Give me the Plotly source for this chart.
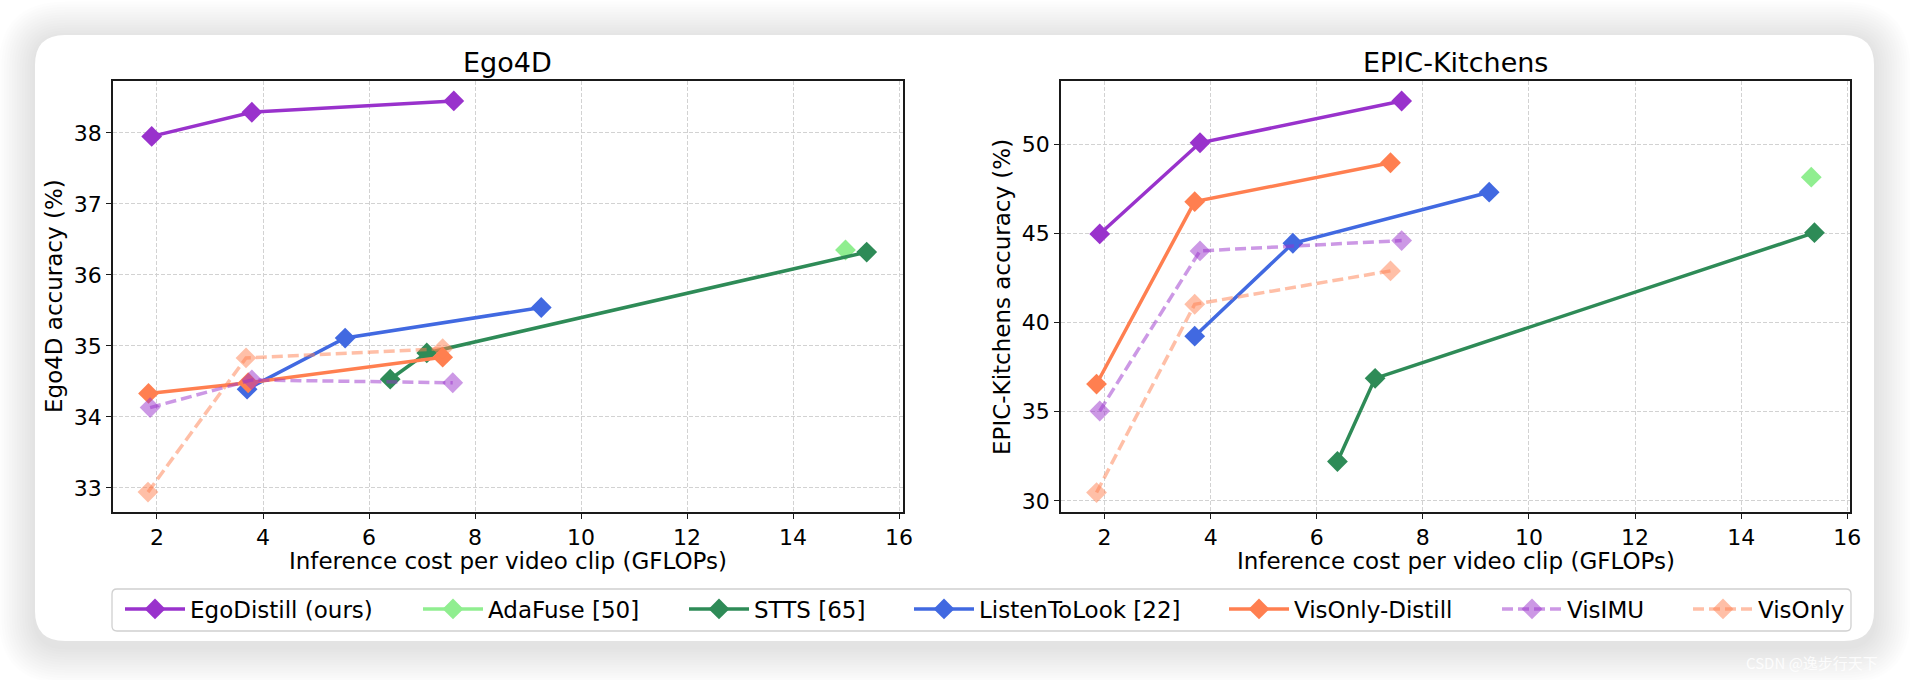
import plotly.graph_objects as go

W, H = 1910, 680

# ---------------- data ----------------
series_names = ["EgoDistill (ours)", "AdaFuse [50]", "STTS [65]", "ListenToLook [22]",
                "VisOnly-Distill", "VisIMU", "VisOnly"]

# Ego4D
ego_egodistill_x = [1.90, 3.79, 7.60]
ego_egodistill_y = [37.95, 38.29, 38.45]
ego_adafuse_x = [14.99]
ego_adafuse_y = [36.35]
ego_stts_x = [6.40, 7.09, 15.39]
ego_stts_y = [34.53, 34.90, 36.32]
ego_ltl_x = [3.70, 5.55, 9.25]
ego_ltl_y = [34.39, 35.11, 35.54]
ego_vod_x = [1.84, 3.72, 7.39]
ego_vod_y = [34.33, 34.48, 34.84]
ego_visimu_x = [1.87, 3.79, 7.58]
ego_visimu_y = [34.13, 34.52, 34.48]
ego_visonly_x = [1.83, 3.68, 7.39]
ego_visonly_y = [32.94, 34.83, 34.96]

# EPIC-Kitchens
epic_egodistill_x = [1.91, 3.80, 7.60]
epic_egodistill_y = [44.96, 50.07, 52.41]
epic_adafuse_x = [15.32]
epic_adafuse_y = [48.14]
epic_stts_x = [6.39, 7.10, 15.38]
epic_stts_y = [32.21, 36.87, 45.03]
epic_ltl_x = [3.70, 5.55, 9.25]
epic_ltl_y = [39.23, 44.44, 47.30]
epic_vod_x = [1.85, 3.70, 7.39]
epic_vod_y = [36.55, 46.77, 48.95]
epic_visimu_x = [1.91, 3.80, 7.60]
epic_visimu_y = [35.04, 44.01, 44.59]
epic_visonly_x = [1.85, 3.70, 7.39]
epic_visonly_y = [30.47, 41.02, 42.89]

x_ticks = [2, 4, 6, 8, 10, 12, 14, 16]
ego_y_ticks = [33, 34, 35, 36, 37, 38]
epic_y_ticks = [30, 35, 40, 45, 50]

# ---------------- styles ----------------
colors = ["#9932CC", "#90EE90", "#2E8B57", "#4169E1", "#FF7F50",
          "rgba(153,50,204,0.5)", "rgba(255,127,80,0.5)"]
dashes = ["solid", "solid", "solid", "solid", "solid", "11px,5px", "11px,5px"]

ego_data = [(ego_egodistill_x, ego_egodistill_y), (ego_adafuse_x, ego_adafuse_y),
            (ego_stts_x, ego_stts_y), (ego_ltl_x, ego_ltl_y), (ego_vod_x, ego_vod_y),
            (ego_visimu_x, ego_visimu_y), (ego_visonly_x, ego_visonly_y)]
epic_data = [(epic_egodistill_x, epic_egodistill_y), (epic_adafuse_x, epic_adafuse_y),
             (epic_stts_x, epic_stts_y), (epic_ltl_x, epic_ltl_y), (epic_vod_x, epic_vod_y),
             (epic_visimu_x, epic_visimu_y), (epic_visonly_x, epic_visonly_y)]


def px(x):
    return x / W


def py(y):
    return 1 - y / H


fig = go.Figure()
legend_ids = ["legend"] + ["legend%d" % i for i in range(2, 8)]

for i, name in enumerate(series_names):
    for data, xa, ya, show in ((ego_data, "x", "y", True), (epic_data, "x2", "y2", False)):
        xs, ys = data[i]
        fig.add_trace(go.Scatter(
            x=xs, y=ys, mode="lines+markers", name=name,
            xaxis=xa, yaxis=ya, showlegend=show, legend=legend_ids[i],
            line=dict(color=colors[i], width=3.5, dash=dashes[i]),
            marker=dict(symbol="diamond", size=16, color=colors[i],
                        line=dict(width=0)),
            cliponaxis=False,
        ))

font_family = "DejaVu Sans"
TICK = 22
LAB = 23

ax_common = dict(
    showline=True, linecolor="#1a1a1a", linewidth=1.6, mirror=True,
    ticks="outside", ticklen=5, tickwidth=1.3, tickcolor="#1a1a1a",
    showgrid=True, gridcolor="#d2d2d2", gridwidth=1, griddash="4px,2px",
    zeroline=False, automargin=False,
    tickfont=dict(family=font_family, size=TICK, color="black"),
)

# axes pixel boxes
L1, R1 = 113, 903
L2, R2 = 1061, 1850
T, B = 81, 512

fig.update_layout(
    xaxis=dict(domain=[px(L1), px(R1)], range=[1.17, 16.075], tickvals=x_ticks,
               anchor="y", **ax_common),
    yaxis=dict(domain=[py(B), py(T)], range=[32.66, 38.73], tickvals=ego_y_ticks,
               anchor="x", **ax_common),
    xaxis2=dict(domain=[px(L2), px(R2)], range=[1.18, 16.05], tickvals=x_ticks,
                anchor="y2", **ax_common),
    yaxis2=dict(domain=[py(B), py(T)], range=[29.38, 53.53], tickvals=epic_y_ticks,
                anchor="x2", **ax_common),
)

# ---------------- background card ----------------


def rrect(x0, y0, x1, y1, r):
    rx, ry = r / W, r / H
    X0, X1 = px(x0), px(x1)
    Y0, Y1 = py(y0), py(y1)
    return (f"M{X0+rx},{Y0} L{X1-rx},{Y0} Q{X1},{Y0} {X1},{Y0-ry} "
            f"L{X1},{Y1+ry} Q{X1},{Y1} {X1-rx},{Y1} L{X0+rx},{Y1} "
            f"Q{X0},{Y1} {X0},{Y1+ry} L{X0},{Y0-ry} Q{X0},{Y0} {X0+rx},{Y0} Z")


shapes = []
for k in range(14, 0, -1):
    e = k * 2.6
    shapes.append(dict(type="path", xref="paper", yref="paper", layer="below",
                       path=rrect(35 - e, 35 - e + 3, 1874 + e, 641 + e + 6, 30 + e),
                       fillcolor="rgba(0,0,0,0.0095)", line=dict(width=0)))
shapes.append(dict(type="path", xref="paper", yref="paper", layer="below",
                   path=rrect(35, 35, 1874, 641, 30),
                   fillcolor="white", line=dict(width=0)))
# legend frame
shapes.append(dict(type="path", xref="paper", yref="paper", layer="below",
                   path=rrect(112, 589, 1851, 631, 5),
                   fillcolor="white", line=dict(color="#d0d0d0", width=1.3)))

# ---------------- text ----------------
ann = []
ann.append(dict(text="Ego4D", x=px((L1 + R1) / 2), y=py(62), xref="paper", yref="paper",
                showarrow=False, xanchor="center", yanchor="middle",
                font=dict(family=font_family, size=27, color="black")))
ann.append(dict(text="EPIC-Kitchens", x=px((L2 + R2) / 2), y=py(62), xref="paper", yref="paper",
                showarrow=False, xanchor="center", yanchor="middle",
                font=dict(family=font_family, size=27, color="black")))
for cx in ((L1 + R1) / 2, (L2 + R2) / 2):
    ann.append(dict(text="Inference cost per video clip (GFLOPs)", x=px(cx), y=py(561),
                    xref="paper", yref="paper", showarrow=False,
                    xanchor="center", yanchor="middle",
                    font=dict(family=font_family, size=LAB, color="black")))
ann.append(dict(text="Ego4D accuracy (%)", x=px(54), y=py(296), xref="paper", yref="paper",
                showarrow=False, textangle=-90, xanchor="center", yanchor="middle",
                font=dict(family=font_family, size=LAB, color="black")))
ann.append(dict(text="EPIC-Kitchens accuracy (%)", x=px(1002), y=py(297), xref="paper",
                yref="paper", showarrow=False, textangle=-90, xanchor="center",
                yanchor="middle", font=dict(family=font_family, size=LAB, color="black")))
ann.append(dict(text="CSDN @逸步行天下", x=px(1812), y=py(662), xref="paper", yref="paper",
                showarrow=False, xanchor="center", yanchor="middle",
                font=dict(family="Noto Sans CJK SC", size=15, color="rgba(255,255,255,0.85)")))

# ---------------- legends ----------------
text_starts = [187, 485, 751, 976, 1291, 1564, 1755]
ITEMW = 60
leg_layout = {}
for i, lid in enumerate(legend_ids):
    leg_layout[lid] = dict(
        x=px(text_starts[i] - (ITEMW + 9) + 2), y=py(609), xanchor="left", yanchor="middle",
        orientation="h", bgcolor="rgba(0,0,0,0)", borderwidth=0,
        font=dict(family=font_family, size=LAB, color="black"),
        itemwidth=ITEMW,
    )

fig.update_layout(
    width=W, height=H,
    margin=dict(l=0, r=0, t=0, b=0),
    paper_bgcolor="white", plot_bgcolor="rgba(0,0,0,0)",
    shapes=shapes, annotations=ann,
    **leg_layout,
)

fig.write_html("out.html", config={"displayModeBar": False},
               post_script="document.body.style.margin='0';document.body.style.overflow='hidden';")
